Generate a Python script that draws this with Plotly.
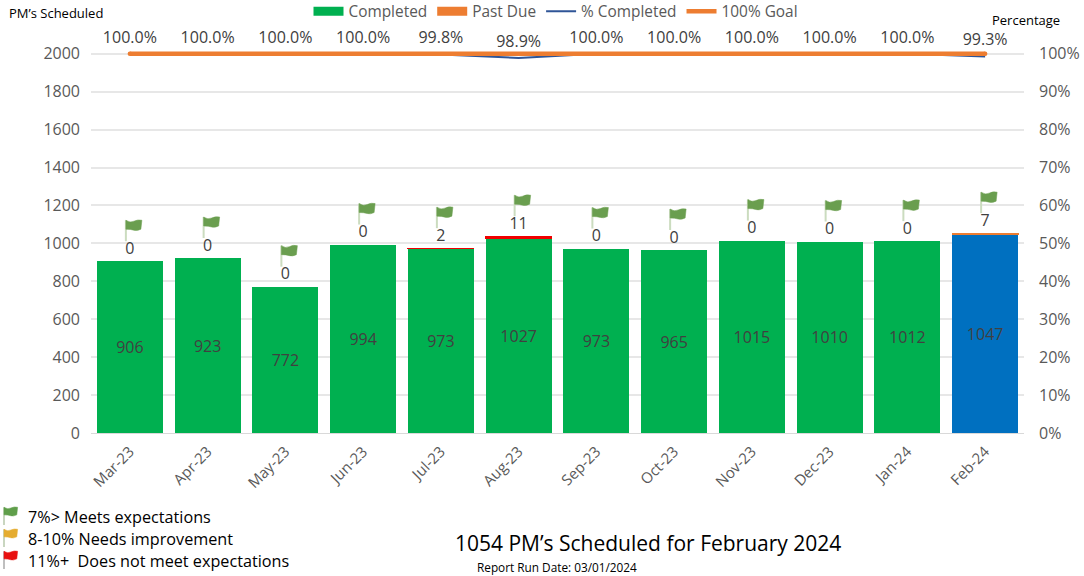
import plotly.graph_objects as go

months = ["Mar-23","Apr-23","May-23","Jun-23","Jul-23","Aug-23","Sep-23","Oct-23","Nov-23","Dec-23","Jan-24","Feb-24"]
completed = [906,923,772,994,973,1027,973,965,1015,1010,1012,1047]
past_due = [0,0,0,0,2,11,0,0,0,0,0,7]
pct_completed = [1.0,1.0,1.0,1.0,0.998,0.989,1.0,1.0,1.0,1.0,1.0,0.993]
goal = [1.0]*12
y_ticks = [0,200,400,600,800,1000,1200,1400,1600,1800,2000]
pct_ticks = [0,.1,.2,.3,.4,.5,.6,.7,.8,.9,1.0]
key_labels = ["7%> Meets expectations","8-10% Needs improvement","11%+  Does not meet expectations"]
key_colors = ["#5F9E4A","#E5AC30","#E81010"]

GREEN, BLUE, ORANGE, RED, NAVY = "#00B050","#0070C0","#ED7D31","#F00000","#2F5597"
FONT = "Open Sans"
GREY = "#595959"
DARK = "#404040"
W, H = 1084, 576
L, R, T, B = 91, 60, 50.2, 143
PW, PH = W-L-R, H-T-B
totals = [c+p for c,p in zip(completed,past_due)]

fig = go.Figure()
fig.add_bar(x=months, y=completed, name="Completed", showlegend=False, width=0.85,
            marker=dict(color=[GREEN]*11+[BLUE], line_width=0),
            text=[str(v) for v in completed], textposition="inside", insidetextanchor="middle",
            textangle=0, textfont=dict(size=16,color=DARK,family=FONT), cliponaxis=False)
fig.add_bar(x=months, y=past_due, name="Past Due", showlegend=False, width=0.85,
            marker=dict(color=[RED]*11+[ORANGE],
                        line=dict(color=[RED]*11+[ORANGE], width=[1 if p else 0 for p in past_due])),
            textposition="none")
fig.add_scatter(x=months, y=totals, mode="markers+text", showlegend=False, hoverinfo="skip",
                marker=dict(size=4,opacity=0), text=[str(v) for v in past_due],
                textposition="top center", textfont=dict(size=16,color=DARK,family=FONT), cliponaxis=False)
fig.add_scatter(x=[None], y=[None], mode="lines", name="Completed", line=dict(color=GREEN,width=9))
fig.add_scatter(x=[None], y=[None], mode="lines", name="Past Due", line=dict(color=ORANGE,width=9))
fig.add_scatter(x=months, y=pct_completed, yaxis="y2", mode="lines", name="% Completed",
                line=dict(color=NAVY,width=2))
fig.add_scatter(x=months, y=goal, yaxis="y2", mode="lines", name="100% Goal",
                line=dict(color=ORANGE,width=4.5))
fig.add_scatter(x=[months[0],months[-1]], y=[goal[0],goal[-1]], yaxis="y2", mode="markers", showlegend=False,
                hoverinfo="skip", marker=dict(size=4.5,color=ORANGE), cliponaxis=False)
fig.add_scatter(x=months, y=pct_completed, yaxis="y2", mode="markers+text", showlegend=False, hoverinfo="skip",
                marker=dict(size=10,opacity=0),
                text=[f"{v*100:.1f}%" for v in pct_completed], textposition="top center",
                textfont=dict(size=16,color=DARK,family=FONT), cliponaxis=False)

def flag_shapes(xanchor, yanchor, xref, yref, cloth, pole, dx, dy, scale=1.0):
    def p(a,b): return f"{dx+a*scale:.1f} {dy+b*scale:.1f}"
    base = dict(xref=xref, yref=yref, xsizemode="pixel", ysizemode="pixel",
                xanchor=xanchor, yanchor=yanchor, layer="above")
    return [
        dict(type="path", path=f"M {p(0,0)} L {p(0,21)}", line=dict(color=pole,width=2), **base),
        dict(type="path", path=f"M {p(0,21)} Q {p(4,18)} {p(8,20)} T {p(16,21)} L {p(15,12)} Q {p(11,10)} {p(8,11)} T {p(0,12)} Z",
             fillcolor=cloth, line=dict(color=cloth,width=0.5), **base),
    ]

shapes = []
for m, t in zip(months, totals):
    shapes += flag_shapes(m, t, "x", "y", "#6A9E4F", "#CBDCBF", -4, 20)

annotations = []
def px(v): return (v-L)/PW
def py(v): return 1-(v-T)/PH
def note(text, x, y, size, color="#000000", anchor="left"):
    annotations.append(dict(text=text, x=px(x), y=py(y), xref="paper", yref="paper", showarrow=False,
                            xanchor=anchor, yanchor="middle", font=dict(size=size,color=color,family=FONT)))
note("PM’s Scheduled", 7, 13, 13)
note("Percentage", 990, 20, 13)
note("1054 PM’s Scheduled for February 2024", 648, 543, 21, anchor="center")
note("Report Run Date: 03/01/2024", 475, 567, 11.8)
for lab, col, yy in zip(key_labels, key_colors, [517,539,561]):
    note(lab, 26, yy, 16.2)
    shapes += flag_shapes(px(4), py(yy+8), "paper", "paper", col, "#C9D6C0" if col!="#E81010" else "#BFBFBF", 0, 0, 0.85)

fig.update_layout(
    width=W, height=H, autosize=False, margin=dict(l=L,r=R,t=T,b=B,autoexpand=False),
    paper_bgcolor="white", plot_bgcolor="white", barmode="stack",
    font=dict(family=FONT,color=GREY,size=16), shapes=shapes, annotations=annotations,
    legend=dict(orientation="h", x=px(556), xanchor="center", y=py(12), yanchor="middle",
                font=dict(size=15.4,color=GREY,family=FONT), itemwidth=30, bgcolor="rgba(0,0,0,0)",
                traceorder="normal"),
    xaxis=dict(type="category", categoryorder="array", categoryarray=months, tickangle=-45,
               tickfont=dict(size=15,color=GREY), showgrid=False, ticks="", ticklabelstandoff=3,
               showline=True, linecolor="#D9D9D9", range=[-0.5,11.5]),
    yaxis=dict(range=[0,2020], tickvals=y_ticks, showgrid=True, gridcolor="#E7E7E7", gridwidth=1.5,
               zeroline=False, ticks="", tickfont=dict(size=16,color=GREY), ticklabelstandoff=10),
    yaxis2=dict(range=[0,1.01], overlaying="y", side="right", tickvals=pct_ticks, tickformat=".0%",
                showgrid=False, zeroline=False, ticks="", tickfont=dict(size=16,color=GREY), ticklabelstandoff=14),
)
fig.write_html("out.html", config={"displayModeBar": False}, post_script="document.body.style.margin='0';")
